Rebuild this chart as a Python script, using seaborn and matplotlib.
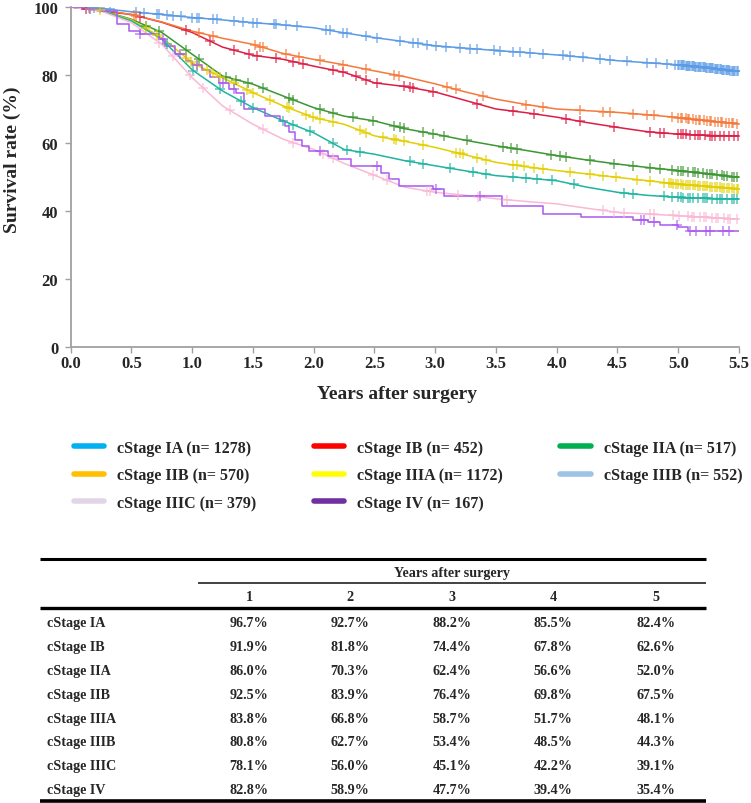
import numpy as np
import pandas as pd
import matplotlib.pyplot as plt
import seaborn as sns
from matplotlib.lines import Line2D

stages = ['cStage IA', 'cStage IB', 'cStage IIA', 'cStage IIB',
          'cStage IIIA', 'cStage IIIB', 'cStage IIIC', 'cStage IV']
n_patients = [1278, 452, 517, 570, 1172, 552, 379, 167]

# colours of the curves in the plot (differ from the legend swatches in the original)
curve_colors = ['#5B9BE6', '#DC1E46', '#3C9632', '#F5793A',
                '#E3CF00', '#1EB4A0', '#F9B9D5', '#AA5AF0']
legend_colors = ['#00B0F0', '#FF0000', '#00B050', '#FFC000',
                 '#FFFF00', '#9DC3E6', '#E2D5E8', '#7030A0']

# survival (%)
years = [0, 0.25, 0.5, 0.75, 1.0, 1.25, 1.5, 1.75, 2.0, 2.25, 2.5, 2.75,
         3.0, 3.25, 3.5, 3.75, 4.0, 4.25, 4.5, 4.75, 5.0, 5.25, 5.5]
surv_IA = [100, 99.6, 98.6, 97.8, 96.9, 96.2, 95.4, 94.7, 93.9, 92.4, 91.0, 89.8,
           88.6, 87.9, 87.2, 86.6, 85.9, 85.1, 84.2, 83.6, 83.0, 82.1, 81.0]
surv_IB = [100, 98.8, 97.8, 95.5, 92.5, 88.2, 85.8, 84.6, 82.6, 80.8, 77.7, 76.6,
           75.0, 72.5, 70.0, 68.9, 67.6, 66.0, 64.6, 63.3, 62.6, 62.2, 62.1]
surv_IIA = [100, 99.0, 96.4, 92.5, 86.1, 79.7, 77.3, 73.8, 70.4, 67.9, 66.5, 64.2,
            62.6, 60.8, 59.2, 57.8, 56.3, 55.0, 53.8, 52.8, 51.9, 50.9, 49.9]
surv_IIB = [100, 99.2, 97.8, 95.6, 92.9, 90.8, 89.0, 86.3, 84.6, 83.0, 81.2, 79.5,
            77.4, 75.0, 72.9, 71.3, 70.0, 69.5, 69.0, 68.3, 67.5, 66.5, 65.6]
surv_IIIA = [100, 99.0, 96.2, 91.0, 83.6, 79.2, 74.8, 70.9, 67.5, 65.5, 62.1, 60.5,
             58.7, 56.5, 54.3, 53.0, 51.9, 50.9, 49.9, 48.9, 47.9, 47.2, 46.5]
surv_IIIB = [100, 99.0, 95.9, 90.5, 81.5, 75.3, 70.4, 66.5, 63.0, 58.1, 56.7, 54.8,
             53.3, 51.8, 50.4, 49.7, 48.9, 47.0, 45.5, 44.6, 44.0, 43.7, 43.5]
surv_IIIC = [100, 98.8, 95.4, 89.0, 79.2, 70.9, 65.5, 61.1, 58.1, 54.0, 50.5, 47.0,
             45.5, 44.6, 43.6, 42.8, 42.1, 40.8, 39.6, 39.1, 38.6, 38.1, 37.6]
# stage IV is small, steps are visible
years_IV = [0, 0.1, 0.25, 0.38, 0.48, 0.57, 0.73, 0.78, 0.86, 0.95, 1.0, 1.08, 1.15,
            1.22, 1.3, 1.36, 1.43, 1.6, 1.72, 1.76, 1.8, 1.85, 1.9, 1.96, 2.12, 2.2,
            2.31, 2.55, 2.62, 2.7, 2.98, 3.07, 3.55, 3.89, 4.2, 4.63, 4.75, 4.85,
            5.0, 5.08, 5.5]
surv_IV = [100, 99.5, 98.8, 95.0, 93.0, 92.0, 90.6, 88.5, 86.2, 84.0, 82.8, 81.5, 79.5,
           77.7, 75.8, 74.8, 69.9, 67.9, 66.5, 65.0, 63.2, 61.0, 59.1, 57.6, 56.2, 55.2,
           53.3, 51.3, 49.5, 47.3, 46.5, 44.3, 41.5, 39.1, 38.3, 37.5, 36.7, 35.9,
           35.2, 34.0, 34.0]

# censoring times (years)
cens_IA = [0.15, 0.19, 0.24, 0.32, 0.54, 0.6, 0.71, 0.73, 0.79, 0.84, 0.91, 1.0, 1.04,
           1.06, 1.17, 1.2, 1.34, 1.42, 1.5, 1.53, 1.67, 1.69, 1.77, 1.86, 2.1, 2.13,
           2.24, 2.27, 2.43, 2.52, 2.71, 2.82, 2.86, 2.93, 3.01, 3.09, 3.2, 3.29, 3.34,
           3.48, 3.53, 3.64, 3.7, 3.78, 3.89, 4.05, 4.11, 4.22, 4.36, 4.44, 4.58, 4.74,
           4.82, 4.91, 4.97, 5.0, 5.01, 5.02, 5.03, 5.04, 5.05, 5.06, 5.07, 5.08, 5.09,
           5.1, 5.11, 5.12, 5.13, 5.14, 5.15, 5.16, 5.17, 5.18, 5.19, 5.2, 5.21, 5.22,
           5.23, 5.24, 5.25, 5.26, 5.27, 5.28, 5.29, 5.3, 5.31, 5.32, 5.33, 5.34, 5.35,
           5.36, 5.37, 5.38, 5.39, 5.4, 5.41, 5.42, 5.43, 5.44, 5.45, 5.46, 5.47, 5.48,
           5.49]
cens_IB = [0.13, 0.57, 0.95, 1.15, 1.34, 1.47, 1.53, 1.69, 1.83, 1.91, 2.16, 2.24, 2.35,
           2.43, 2.52, 2.74, 2.79, 2.82, 2.98, 3.34, 3.64, 3.81, 4.08, 4.19, 4.47, 4.77,
           4.85, 4.88, 5.0, 5.02, 5.04, 5.06, 5.1, 5.14, 5.16, 5.18, 5.22, 5.26, 5.28,
           5.3, 5.34, 5.38, 5.42, 5.46, 5.49]
cens_IIA = [0.62, 0.73, 0.95, 1.06, 1.28, 1.36, 1.46, 1.58, 1.8, 1.83, 2.05, 2.16, 2.32,
            2.49, 2.66, 2.71, 2.74, 2.9, 2.98, 3.07, 3.26, 3.56, 3.62, 3.67, 3.95, 4.03,
            4.08, 4.27, 4.47, 4.63, 4.77, 4.85, 4.95, 5.0, 5.02, 5.04, 5.08, 5.12, 5.14,
            5.16, 5.2, 5.24, 5.26, 5.28, 5.32, 5.36, 5.38, 5.4, 5.44, 5.46, 5.48]
cens_IIB = [0.52, 0.54, 1.06, 1.17, 1.52, 1.56, 1.58, 1.77, 1.88, 2.05, 2.24, 2.43, 2.66,
            2.7, 3.1, 3.17, 3.39, 3.75, 3.89, 4.19, 4.38, 4.44, 4.63, 4.74, 4.8, 4.95,
            5.0, 5.02, 5.03, 5.06, 5.08, 5.09, 5.12, 5.15, 5.17, 5.18, 5.21, 5.24, 5.26,
            5.27, 5.3, 5.33, 5.35, 5.36, 5.39, 5.42, 5.44, 5.45, 5.48]
cens_IIIA = [0.16, 0.24, 0.62, 0.71, 0.95, 0.99, 1.04, 1.12, 1.17, 1.23, 1.34, 1.45, 1.5,
             1.64, 1.78, 1.8, 1.94, 1.99, 2.05, 2.16, 2.38, 2.43, 2.57, 2.66, 2.68, 2.74,
             2.9, 3.17, 3.2, 3.23, 3.34, 3.42, 3.64, 3.67, 3.73, 3.81, 3.89, 4.11, 4.27,
             4.38, 4.49, 4.66, 4.77, 4.88, 4.92, 4.94, 4.96, 4.98, 5.0, 5.02, 5.04, 5.06,
             5.08, 5.1, 5.12, 5.14, 5.16, 5.18, 5.2, 5.22, 5.24, 5.26, 5.28, 5.3, 5.32,
             5.34, 5.36, 5.38, 5.4, 5.42, 5.44, 5.46, 5.48, 5.49]
cens_IIIB = [0.79, 1.01, 1.23, 1.4, 1.5, 1.75, 1.83, 1.97, 2.16, 2.27, 2.38, 2.79, 2.9,
             3.12, 3.31, 3.42, 3.64, 3.75, 3.84, 3.96, 4.14, 4.55, 4.63, 4.88, 4.95,
             5.0, 5.02, 5.04, 5.08, 5.1, 5.12, 5.16, 5.2, 5.22, 5.24, 5.28, 5.32, 5.34,
             5.36, 5.4, 5.44, 5.46, 5.48]
cens_IIIC = [0.73, 0.84, 0.98, 1.09, 1.31, 1.58, 1.83, 2.08, 2.16, 2.49, 2.6, 2.93, 2.96,
             3.19, 3.35, 3.59, 4.38, 4.47, 4.55, 4.77, 4.8, 4.96, 5.01, 5.08, 5.11, 5.13,
             5.18, 5.21, 5.23, 5.28, 5.31, 5.33, 5.38, 5.41, 5.43, 5.48]
cens_IV = [0.16, 0.57, 0.76, 0.9, 1.04, 1.25, 1.34, 2.05, 2.52, 3.01, 3.37, 4.69, 4.72,
           4.8, 4.99, 5.1, 5.15, 5.23, 5.26, 5.37, 5.42]

# table: survival rate at 1-5 years
table_years = [1, 2, 3, 4, 5]
rate_IA = [96.7, 92.7, 88.2, 85.5, 82.4]
rate_IB = [91.9, 81.8, 74.4, 67.8, 62.6]
rate_IIA = [86.0, 70.3, 62.4, 56.6, 52.0]
rate_IIB = [92.5, 83.9, 76.4, 69.8, 67.5]
rate_IIIA = [83.8, 66.8, 58.7, 51.7, 48.1]
rate_IIIB = [80.8, 62.7, 53.4, 48.5, 44.3]
rate_IIIC = [78.1, 56.0, 45.1, 42.2, 39.1]
rate_IV = [82.8, 58.9, 47.7, 39.4, 35.4]

sns.set_style('white')
plt.rcParams['font.family'] = ['Liberation Serif', 'DejaVu Serif']
plt.rcParams['font.weight'] = 'bold'

W, H = 751, 804
fig = plt.figure(figsize=(W / 100, H / 100), dpi=100)
ax = fig.add_axes([70.7 / W, 1 - 348 / H, (739 - 70.7) / W, 340 / H])

curves = [
    (years, surv_IA, cens_IA, False),
    (years, surv_IB, cens_IB, False),
    (years, surv_IIA, cens_IIA, False),
    (years, surv_IIB, cens_IIB, False),
    (years, surv_IIIA, cens_IIIA, False),
    (years, surv_IIIB, cens_IIIB, False),
    (years, surv_IIIC, cens_IIIC, False),
    (years_IV, surv_IV, cens_IV, True),
]

for i, (t, s, cens, stepped) in enumerate(curves):
    df = pd.DataFrame({'t': t, 's': s})
    c = curve_colors[i]
    sns.lineplot(data=df, x='t', y='s', ax=ax, color=c, lw=1.1, estimator=None,
                 drawstyle='steps-post' if stepped else 'default')
    t_arr = np.asarray(t)
    s_arr = np.asarray(s)
    ct = np.asarray(cens)
    if stepped:
        cy = s_arr[np.searchsorted(t_arr, ct, side='right') - 1]
    else:
        cy = np.interp(ct, t_arr, s_arr)
    sns.scatterplot(x=ct, y=cy, ax=ax, marker='+', s=50, color=c,
                    linewidth=1.1, alpha=0.75, zorder=3)

ax.set_xlim(0, 5.5)
ax.set_ylim(0, 100)
xt = [0, 0.5, 1.0, 1.5, 2.0, 2.5, 3.0, 3.5, 4.0, 4.5, 5.0, 5.5]
ax.set_xticks(xt)
ax.set_xticklabels([f'{v:.1f}' for v in xt])
ax.set_yticks([0, 20, 40, 60, 80, 100])
for side in ['top', 'right']:
    ax.spines[side].set_visible(False)
for side in ['left', 'bottom']:
    ax.spines[side].set_color('#A0A0A0')
    ax.spines[side].set_linewidth(1.3)
ax.tick_params(axis='both', direction='out', length=4, width=1, color='#A0A0A0',
               labelsize=12, bottom=True, left=True)
ax.tick_params(axis='y', pad=5)
ax.tick_params(axis='x', pad=2)
ax.set_xlabel('Years after surgery', fontsize=14, fontweight='bold')
ax.set_ylabel('Survival rate (%)', fontsize=14, fontweight='bold')
ax.xaxis.set_label_coords(0.488, -0.112)
ax.yaxis.set_label_coords(-0.075, 0.553)

# legend (row-wise order in the original -> reorder for column filling)
handles = [Line2D([0], [0], color=legend_colors[i], lw=4,
                  label=f'{stages[i]} (n= {n_patients[i]})') for i in range(8)]
order = [0, 3, 6, 1, 4, 7, 2, 5]
fig.legend([handles[i] for i in order], [handles[i].get_label() for i in order],
           loc='upper left', bbox_to_anchor=(74 / W, 1 - 441 / H), ncol=3,
           frameon=False, handlelength=1.9, handletextpad=0.8,
           columnspacing=3.6, labelspacing=0.72, borderpad=0, borderaxespad=0,
           prop={'weight': 'bold', 'size': 11.5})

# table drawn in pixel coordinates
tab = fig.add_axes([0, 0, 1, 1])
tab.set_xlim(0, W)
tab.set_ylim(H, 0)
tab.axis('off')

col_x = [249, 350, 452, 553, 656]
row_y = [624, 648, 672, 696, 720, 743, 767, 791]
rates = [rate_IA, rate_IB, rate_IIA, rate_IIB, rate_IIIA, rate_IIIB, rate_IIIC, rate_IV]

tab.hlines(560, 40, 706, color='black', lw=2.2)
tab.hlines(584, 198, 706, color='#333333', lw=1.3)
tab.hlines(609, 40, 706, color='black', lw=2.4)
tab.hlines(802, 40, 706, color='black', lw=2.6)
tab.text(452, 574, 'Years after surgery', ha='center', va='center',
         fontsize=10.2, fontweight='bold')
for x, yr in zip(col_x, table_years):
    tab.text(x, 598, str(yr), ha='center', va='center', fontsize=10.2, fontweight='bold')
for y, name, vals in zip(row_y, stages, rates):
    tab.text(47, y, name, ha='left', va='center', fontsize=10.2, fontweight='bold')
    for x, v in zip(col_x, vals):
        tab.text(x, y, f'{v:.1f}%', ha='center', va='center', fontsize=10.2,
                 fontweight='bold')

fig.savefig('out.png', dpi=100)
